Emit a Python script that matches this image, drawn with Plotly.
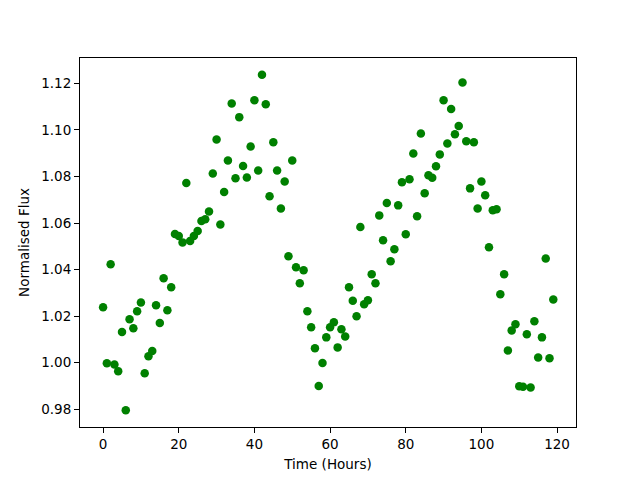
import plotly.graph_objects as go

hours = list(range(120))
flux = [
    1.0238, 0.9998, 1.0423, 0.9992, 0.9964, 1.0132, 0.9796, 1.0187, 1.0148, 1.0221,
    1.0259, 0.9955, 1.0028, 1.0050, 1.0247, 1.0171, 1.0363, 1.0225, 1.0324, 1.0553,
    1.0544, 1.0517, 1.0772, 1.0523, 1.0544, 1.0566, 1.0609, 1.0616, 1.0650, 1.0813,
    1.0959, 1.0594, 1.0733, 1.0869, 1.1114, 1.0792, 1.1055, 1.0845, 1.0796, 1.0929,
    1.1128, 1.0826, 1.1237, 1.1110, 1.0715, 1.0947, 1.0826, 1.0663, 1.0779, 1.0457,
    1.0869, 1.0410, 1.0341, 1.0397, 1.0221, 1.0152, 1.0062, 0.9900, 0.9999, 1.0109,
    1.0152, 1.0174, 1.0066, 1.0144, 1.0113, 1.0324, 1.0266, 1.0200, 1.0583, 1.0251,
    1.0268, 1.0380, 1.0341, 1.0633, 1.0526, 1.0686, 1.0436, 1.0488, 1.0676, 1.0775,
    1.0552, 1.0788, 1.0899, 1.0629, 1.0985, 1.0728, 1.0805, 1.0795, 1.0844, 1.0895,
    1.1128, 1.0942, 1.1090, 1.0981, 1.1017, 1.1204, 1.0951, 1.0749, 1.0947, 1.0663,
    1.0779, 1.0719, 1.0496, 1.0655, 1.0659, 1.0294, 1.0380, 1.0053, 1.0139, 1.0165,
    0.9899, 0.9897, 1.0122, 0.9894, 1.0178, 1.0023, 1.0109, 1.0448, 1.0019, 1.0272,
]
x_ticks = [0, 20, 40, 60, 80, 100, 120]
y_ticks = [0.98, 1.00, 1.02, 1.04, 1.06, 1.08, 1.10, 1.12]

fig = go.Figure(go.Scatter(
    x=hours, y=flux, mode="markers",
    marker=dict(color="#008000", size=8.5, line=dict(width=0)),
))

axis_common = dict(
    showgrid=False, zeroline=False, showline=True, linecolor="black", linewidth=1,
    mirror=True, ticks="outside", ticklen=5, tickwidth=1, tickcolor="black",
    tickfont=dict(family="DejaVu Sans", size=13.5, color="black"),
)

# the page places the figure 8px from the top-left corner, so margins are offset by 8px
fig.update_layout(
    width=640, height=480,
    margin=dict(l=72, r=72, t=50, b=61),
    paper_bgcolor="white", plot_bgcolor="white",
    showlegend=False,
    font=dict(family="DejaVu Sans", size=13.5, color="black"),
    xaxis=dict(
        range=[-6.1, 125.0], tickvals=x_ticks, ticktext=[str(v) for v in x_ticks],
        title=dict(text="Time (Hours)", standoff=8, font=dict(size=13.5)),
        **axis_common,
    ),
    yaxis=dict(
        range=[0.9724, 1.1309], tickvals=y_ticks, ticktext=[f"{v:.2f}" for v in y_ticks],
        title=dict(text="Normalised Flux", standoff=8, font=dict(size=13.5)),
        **axis_common,
    ),
)

fig.write_html("out.html")
